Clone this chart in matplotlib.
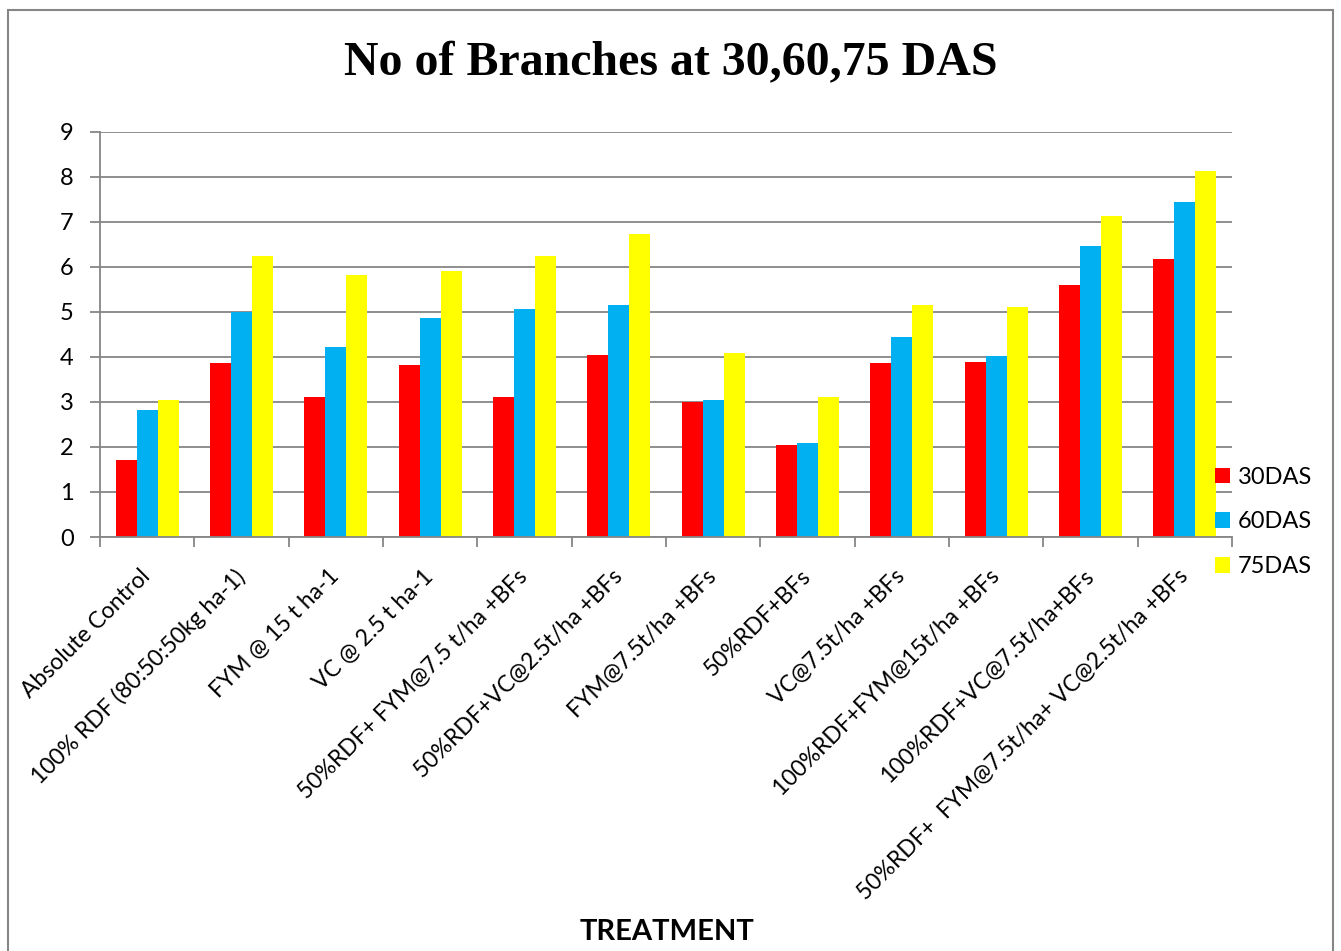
import numpy as np
import matplotlib
matplotlib.use('Agg')
import matplotlib.pyplot as plt
from matplotlib.patches import Rectangle, Patch

# 数据
treatments = ['Absolute Control', '100% RDF (80:50:50kg ha-1)', 'FYM @ 15 t ha-1',
              'VC @ 2.5 t ha-1', '50%RDF+ FYM@7.5 t/ha +BFs', '50%RDF+VC@2.5t/ha +BFs',
              'FYM@7.5t/ha +BFs', '50%RDF+BFs', 'VC@7.5t/ha +BFs',
              '100%RDF+FYM@15t/ha +BFs', '100%RDF+VC@7.5t/ha+BFs',
              '50%RDF+  FYM@7.5t/ha+ VC@2.5t/ha +BFs']
das30 = [1.71, 3.87, 3.11, 3.82, 3.10, 4.05, 3.00, 2.04, 3.87, 3.88, 5.59, 6.18]
das60 = [2.82, 4.99, 4.22, 4.87, 5.07, 5.15, 3.03, 2.08, 4.44, 4.02, 6.45, 7.43]
das75 = [3.03, 6.24, 5.82, 5.91, 6.23, 6.73, 4.08, 3.11, 5.15, 5.11, 7.13, 8.13]
series_names = ['30DAS', '60DAS', '75DAS']
colors = ['#FF0000', '#00B0F0', '#FFFF00']

grey = '#868686'
W, H = 1341, 951

fig = plt.figure(figsize=(W / 100, H / 100), dpi=100)
ax = fig.add_axes([100 / W, 1 - 537 / H, (1232 - 100) / W, (537 - 131.5) / H])

x = np.arange(len(treatments))
w = 1 / 4.5
for k, vals in enumerate([das30, das60, das75]):
    ax.bar(x + (k - 1) * w, vals, width=w, color=colors[k], zorder=2)

ax.set_xlim(-0.5, len(treatments) - 0.5)
ax.set_ylim(0, 9)
ax.set_yticks(range(10))
ax.yaxis.grid(True, color=grey, linewidth=1.3)
ax.set_axisbelow(True)

for s in ['top', 'right']:
    ax.spines[s].set_visible(False)
for s in ['left', 'bottom']:
    ax.spines[s].set_color(grey)
    ax.spines[s].set_linewidth(1.3)

ax.set_xticks(x)
ax.set_xticklabels(treatments, rotation=45, ha='right', va='center',
                   rotation_mode='anchor', fontsize=16.5, family='Lato')
ax.tick_params(axis='x', length=0, pad=26)
ax.set_xticks(np.arange(-0.5, len(treatments)), minor=True)
ax.tick_params(axis='x', which='minor', length=7, color=grey, width=1.3)
ax.tick_params(axis='y', length=7, color=grey, width=1.3, labelsize=17, pad=12)
for t in ax.get_yticklabels():
    t.set_family('Lato')

# 图例
handles = [Patch(facecolor=c) for c in colors]
leg = fig.legend(handles, series_names, loc='center left',
                 bbox_to_anchor=(1215 / W, 1 - 522 / H), frameon=False,
                 prop={'family': ['Liberation Sans Narrow', 'Lato'], 'size': 17},
                 handlelength=0.65, handleheight=0.65, handletextpad=0.3,
                 labelspacing=1.0, borderpad=0, borderaxespad=0)

fig.text(0.5, 1 - 63 / H, 'No of Branches at 30,60,75 DAS', ha='center', va='center',
         fontsize=34.5, fontweight='bold', family='Liberation Serif')
fig.text(667 / W, 1 - 932 / H, 'TREATMENT', ha='center', va='center',
         fontsize=21, fontweight='bold', family=['Liberation Sans Narrow', 'Lato'])

# 外框
fig.patches.append(Rectangle((8 / W, -0.05), (1333 - 8) / W, 1.05 - 10 / H,
                             transform=fig.transFigure, fill=False,
                             edgecolor=grey, linewidth=1.5))

fig.savefig('out.png', dpi=100)
